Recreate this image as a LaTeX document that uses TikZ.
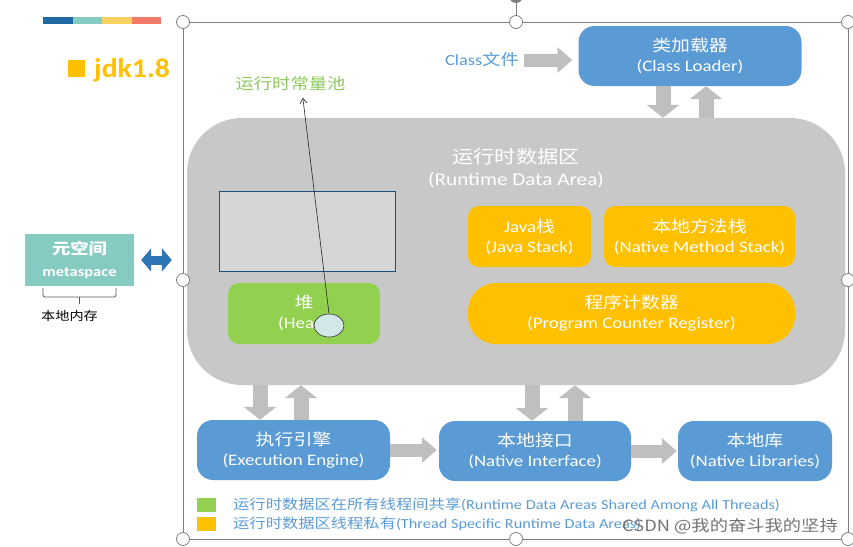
\documentclass[tikz,border=0pt]{standalone}
\usepackage{fontspec}
\setmainfont{Carlito}[FakeStretch=1.18]
\newfontfamily\cjk{Noto Sans CJK SC}[FakeStretch=1.18]
\newfontfamily\jdkfont{Carlito}[FakeStretch=1.1]
\newcommand{\zh}[1]{{\cjk #1}}
\usepackage{xcolor}
\usetikzlibrary{arrows.meta,shapes.geometric}

\definecolor{boxblue}{HTML}{5B9BD5}
\definecolor{areagray}{HTML}{C8C8C8}
\definecolor{poolgray}{HTML}{D6D6D6}
\definecolor{poolline}{HTML}{1F4E79}
\definecolor{poolcyan}{HTML}{D2E8E8}
\definecolor{poolgreen}{HTML}{8CC95A}
\definecolor{heapgreen}{HTML}{92D050}
\definecolor{stackorange}{HTML}{FFC000}
\definecolor{metateal}{HTML}{86CBC2}
\definecolor{arrowgray}{HTML}{BFBFBF}
\definecolor{arrowblue}{HTML}{2E75B6}
\definecolor{framegray}{HTML}{7F7F7F}
\definecolor{barblue}{HTML}{1F6AA5}
\definecolor{barteal}{HTML}{87CCC3}
\definecolor{baryellow}{HTML}{F9D262}
\definecolor{barred}{HTML}{F47B6A}

\begin{document}
\begin{tikzpicture}[x=1pt,y=-1pt,
    every node/.style={inner sep=0pt},
    box/.style={align=center,text=white,font=\fontsize{16}{20}\selectfont},
    bluebox/.style={box,fill=boxblue,rounded corners=16pt,minimum height=60pt},
    orangebox/.style={box,fill=stackorange,rounded corners=11pt,minimum height=61pt},
    vblock/.style={draw=arrowgray,line width=15pt,-{Triangle[width=32pt 0 0,length=13pt 0 0]}},
    hblock/.style={draw=arrowgray,line width=13pt,-{Triangle[width=25pt 0 0,length=15pt 0 0]}},
    dblarrow/.style={draw=arrowblue,line width=9pt,
      {Triangle[width=23pt 0 0,length=10pt 0 0]}-{Triangle[width=23pt 0 0,length=10pt 0 0]}},
    legend/.style={text=boxblue,font=\fontsize{13.8}{16}\selectfont,anchor=west},
    handle/.style={draw=framegray,fill=white,line width=0.8pt}]

\useasboundingbox (0,0) rectangle (853,546);

% colour bar
\foreach \c [count=\i from 0] in {barblue,barteal,baryellow,barred}
  \fill[\c] (43+29.5*\i,17) rectangle ++(29.5,7);

% selection frame
\draw[framegray,line width=0.8pt] (516,-4) -- (516,22);
\fill[framegray] (516,-4) circle (7);
\draw[framegray,line width=0.8pt] (183,22) rectangle (848,539);

\node[text=stackorange,font=\jdkfont\fontsize{27}{27}\bfseries\selectfont,anchor=base west] (jdk) at (68,77)
  {\rule{17pt}{17pt}\hspace{9pt}jdk1.8};

% class loader
\node[bluebox,minimum width=223pt] (loader) at (690,56) {\zh{类加载器}\\(Class Loader)};
\node[text=boxblue,font=\fontsize{15.5}{18}\selectfont] (clsfile) at (482,60) {Class\zh{文件}};
\draw[hblock,shorten <=5pt,shorten >=6pt] (clsfile.east) -- (clsfile.east -| loader.west);

% runtime data area
\node[fill=areagray,rounded corners=55pt,minimum width=658pt,minimum height=267pt] (rda) at (516,251.5) {};
\node[box,font=\fontsize{18}{22}\selectfont] (rdatitle) at (516,168) {\zh{运行时数据区}\\(Runtime Data Area)};

\node[draw=poolline,fill=poolgray,line width=0.7pt,minimum width=176pt,minimum height=80pt] (poolbox) at (307,231) {};
\node[box,fill=heapgreen,rounded corners=11pt,minimum width=152pt,minimum height=61pt] (heap) at (304,313.5) {\zh{堆}\\(Heap)};
\node[ellipse,draw=black!80,fill=poolcyan,line width=0.6pt,minimum width=30pt,minimum height=23pt] (ref) at (329,325.5) {};

\node[orangebox,minimum width=123pt] (jstack) at (529.5,236.5) {Java\zh{栈}\\(Java Stack)};
\node[orangebox,minimum width=191pt] (nstack) at (699.5,236.5) {\zh{本地方法栈}\\(Native Method Stack)};
\node[orangebox,rounded corners=28pt,minimum width=327pt] (pc) at (631.5,313.5) {\zh{程序计数器}\\(Program Counter Register)};

% constant pool
\node[text=poolgreen,font=\fontsize{15.5}{18}\selectfont] (pool) at (290.5,83.5) {\zh{运行时常量池}};
\draw[-{Straight Barb[length=5pt,width=7pt]},black!85,line width=0.6pt,shorten >=7pt] (ref.north) -- (pool.south -| 302,0);

\draw[vblock] (loader.south -| 663,0) -- (rda.north -| 663,0);
\draw[vblock] (rda.north -| 706,0) -- (loader.south -| 706,0);

% metaspace
\node[fill=metateal,text=white,align=center,minimum width=109pt,minimum height=52pt,
  font=\fontsize{14}{22}\bfseries\selectfont] (meta) at (79.5,260) {{\cjk\fontsize{15.5}{22}\selectfont 元空间}\\metaspace};
\draw[dblarrow,shorten <=7pt,shorten >=15pt] (meta.east) -- (meta.east -| rda.west);
\draw[black!65,line width=0.8pt,rounded corners=1.5pt] (43,288) -- (43,297) -- (116,297) -- (116,288)
  (79.5,297) -- (79.5,304);
\node[font=\fontsize{12}{14}\selectfont] (nativemem) at (69.5,316) {\zh{本地内存}};

% engine, interface, libraries
\node[bluebox,minimum width=193pt] (engine) at (293.5,450) {\zh{执行引擎}\\(Execution Engine)};
\node[bluebox,minimum width=192pt] (iface) at (535,451) {\zh{本地接口}\\(Native Interface)};
\node[bluebox,minimum width=154pt] (libs) at (755,451) {\zh{本地库}\\(Native Libraries)};

\draw[vblock] (rda.south -| 260,0) -- (engine.north -| 260,0);
\draw[vblock] (engine.north -| 301,0) -- (rda.south -| 301,0);
\draw[vblock] (rda.south -| 532,0) -- (iface.north -| 532,0);
\draw[vblock] (iface.north -| 575,0) -- (rda.south -| 575,0);
\draw[hblock,shorten >=2pt] (engine.east) -- (engine.east -| iface.west);
\draw[hblock,shorten >=1pt] (iface.east) -- (libs.west);

% legend
\node[fill=heapgreen,minimum width=19pt,minimum height=14pt] (sharedkey) at (206.5,504.5) {};
\node[fill=stackorange,minimum width=19pt,minimum height=14pt] (privatekey) at (206.5,523.5) {};
\node[legend] (sharedtext) at (233,505) {\zh{运行时数据区在所有线程间共享}(Runtime Data Areas Shared Among All Threads)};
\node[legend] (privatetext) at (233,523.5) {\zh{运行时数据区线程私有}(Thread Specific Runtime Data Areas)};

\node[text=black!55,font=\fontsize{15.5}{18}\selectfont,anchor=east] (mark) at (838,526) {\zh{CSDN @我的奋斗我的坚持}};

% handles
\foreach \p in {(183,22),(516,22),(848,22),(183,280),(848,280),(183,539),(516,539),(848,539)}
  \filldraw[handle] \p circle (6.5);
\end{tikzpicture}
\end{document}
